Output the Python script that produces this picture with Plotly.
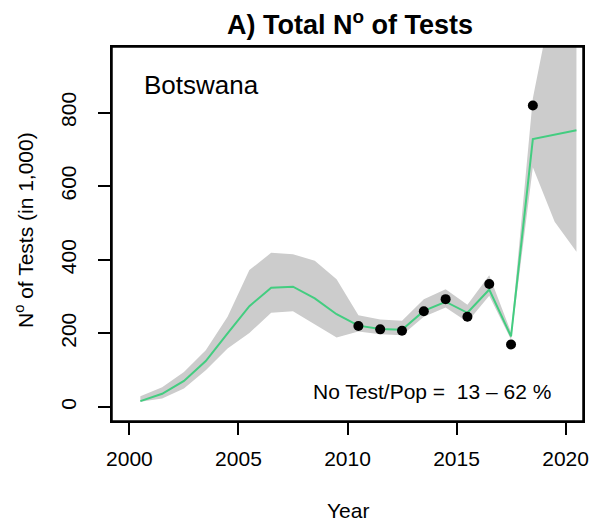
import plotly.graph_objects as go

# ---- data ----
years = [2000.5, 2001.5, 2002.5, 2003.5, 2004.5, 2005.5, 2006.5, 2007.5, 2008.5, 2009.5,
         2010.5, 2011.5, 2012.5, 2013.5, 2014.5, 2015.5, 2016.5, 2017.5, 2018.5, 2019.5, 2020.5]
fit = [16, 36, 71, 125, 200, 274, 324, 327, 295, 252,
       221, 212, 210, 261, 286, 256, 319, 192, 728, 740, 752]
upper = [29, 54, 95, 154, 245, 372, 419, 415, 397, 347,
         249, 238, 234, 293, 320, 278, 358, 203, 839, 1136, 1300]
lower = [14, 23, 50, 100, 159, 201, 256, 260, 225, 189,
         205, 198, 195, 245, 270, 231, 302, 183, 651, 503, 422]
obs_years = [2010.5, 2011.5, 2012.5, 2013.5, 2014.5, 2015.5, 2016.5, 2017.5, 2018.5]
obs = [220, 211, 207, 260, 293, 245, 334, 170, 819]

x_ticks = [2000, 2005, 2010, 2015, 2020]
y_ticks = [0, 200, 400, 600, 800]

FONT = "Liberation Sans, Arial, Helvetica, sans-serif"

W, H = 592, 525
L, R, T, B = 112, 9, 47, 104
PW, PH = W - L - R, H - T - B


def px_x(fx):
    return (fx - L) / PW


def px_y(fy):
    return (H - B - fy) / PH


fig = go.Figure()
fig.add_trace(go.Scatter(
    x=years + years[::-1], y=upper + lower[::-1],
    fill="toself", fillcolor="#CCCCCC", line=dict(width=0, color="#CCCCCC"),
    mode="lines", hoverinfo="skip", showlegend=False))
fig.add_trace(go.Scatter(
    x=years, y=fit, mode="lines", line=dict(color="#43CD80", width=2),
    showlegend=False))
fig.add_trace(go.Scatter(
    x=obs_years, y=obs, mode="markers",
    marker=dict(color="black", size=10), showlegend=False))

fig.add_annotation(x=2000.58, y=875, xref="x", yref="y", text="Botswana",
                   showarrow=False, xanchor="left", yanchor="middle",
                   font=dict(size=26, color="black", family=FONT))
fig.add_annotation(x=2013.87, y=42, xref="x", yref="y",
                   text="No Test/Pop = \u00a013 \u2013 62 %",
                   showarrow=False, xanchor="center", yanchor="middle",
                   font=dict(size=21, color="black", family=FONT))
# axis titles (R-style placement)
fig.add_annotation(x=px_x(348), y=px_y(510), xref="paper", yref="paper",
                   text="Year", showarrow=False, xanchor="center", yanchor="middle",
                   font=dict(size=21, color="black", family=FONT))
fig.add_annotation(x=px_x(24), y=px_y(230), xref="paper", yref="paper",
                   text="N<sup>o</sup> of Tests (in 1,000)", textangle=-90,
                   showarrow=False, xanchor="center", yanchor="middle",
                   font=dict(size=21, color="black", family=FONT))

# plot box (R's box())
fig.add_shape(type="rect", xref="paper", yref="paper", x0=0, y0=0, x1=1, y1=1,
              line=dict(color="black", width=1.5), layer="above")

fig.update_layout(
    width=W, height=H,
    margin=dict(l=L, r=R, t=T, b=B, autoexpand=False),
    paper_bgcolor="white", plot_bgcolor="white",
    font=dict(family=FONT, size=21, color="black"),
    title=dict(text="<b>A) Total N<sup>o</sup> of Tests</b>", x=350 / W, xanchor="center",
               y=1 - 25 / H, yanchor="middle", font=dict(size=27, family=FONT, color="black")),
    xaxis=dict(range=[1999.2, 2020.8], tickvals=x_ticks, ticktext=[str(v) for v in x_ticks],
               showgrid=False, zeroline=False, showline=True, mirror=True, automargin=False,
               linecolor="black", linewidth=1.5, ticks="outside", ticklen=12,
               tickwidth=1.5, tickcolor="black", ticklabelstandoff=6,
               tickfont=dict(size=21)),
    yaxis=dict(range=[-38, 978], tickvals=y_ticks, ticktext=[str(v) for v in y_ticks],
               showgrid=False, zeroline=False, showline=True, mirror=True, automargin=False,
               linecolor="black", linewidth=1.5, ticks="outside", ticklen=12,
               tickwidth=1.5, tickcolor="black", tickangle=-90, ticklabelstandoff=14,
               tickfont=dict(size=21)),
)

fig.write_html(
    "out.html",
    config={"displayModeBar": False},
    post_script="document.body.style.margin='0';document.body.style.overflow='hidden';",
)
